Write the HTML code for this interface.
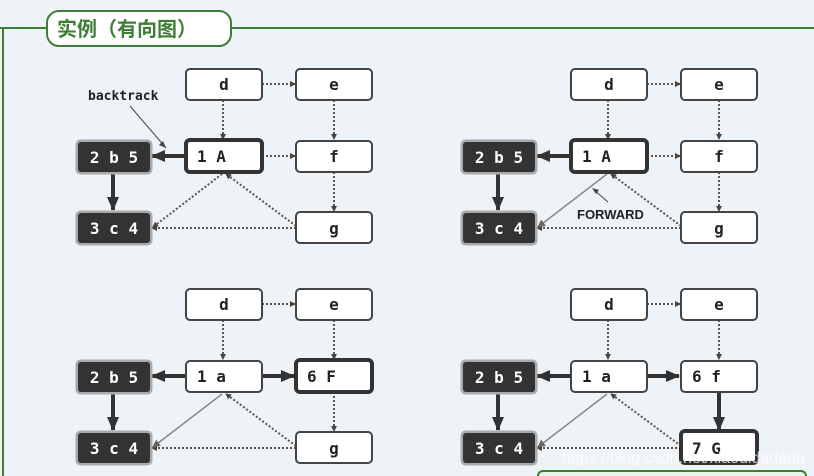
<!DOCTYPE html>
<html><head><meta charset="utf-8"><style>
html,body{margin:0;padding:0;background:#eef3f8;width:814px;height:476px;overflow:hidden}
svg{display:block}
text{font-family:"DejaVu Sans Mono","Liberation Mono",monospace;font-weight:bold}
</style></head><body>
<svg width="814" height="476" viewBox="0 0 814 476" xmlns="http://www.w3.org/2000/svg">
<defs>
<marker id="sa" markerWidth="6" markerHeight="6" refX="5" refY="3" orient="auto" markerUnits="userSpaceOnUse"><path d="M0,0 L6,3 L0,6z" fill="#444"/></marker>
<marker id="ba" markerWidth="14" markerHeight="12" refX="13" refY="6" orient="auto" markerUnits="userSpaceOnUse"><path d="M0,0 L14,6 L0,12z" fill="#333"/></marker>
<marker id="ta" markerWidth="8" markerHeight="8" refX="7" refY="4" orient="auto" markerUnits="userSpaceOnUse"><path d="M0,0 L8,4 L0,8z" fill="#666"/></marker>
<g id="base">
 <line x1="262" y1="84" x2="295" y2="84" stroke="#555" stroke-width="2" stroke-dasharray="2,2" marker-end="url(#sa)"/>
 <line x1="223" y1="100" x2="223" y2="139" stroke="#555" stroke-width="2" stroke-dasharray="2,2" marker-end="url(#sa)"/>
 <line x1="334" y1="100" x2="334" y2="139" stroke="#555" stroke-width="2" stroke-dasharray="2,2" marker-end="url(#sa)"/>
 <line x1="296" y1="228" x2="152" y2="228" stroke="#555" stroke-width="2" stroke-dasharray="2,2" marker-end="url(#sa)"/>
 <line x1="296" y1="226" x2="226" y2="174" stroke="#555" stroke-width="2" stroke-dasharray="2,2" marker-end="url(#sa)"/>
 <line x1="113" y1="172" x2="113" y2="210" stroke="#333" stroke-width="4" marker-end="url(#ba)"/>
 <line x1="186" y1="156" x2="152" y2="156" stroke="#333" stroke-width="4" marker-end="url(#ba)"/>
 <rect x="75.5" y="139.5" width="77" height="35" rx="5" fill="#aaa"/>
 <rect x="78" y="142" width="72" height="30" rx="3" fill="#333"/>
 <text x="114" y="163" fill="#fff" font-size="16" text-anchor="middle">2 b 5</text>
 <rect x="75.5" y="210.5" width="77" height="35" rx="5" fill="#aaa"/>
 <rect x="78" y="213" width="72" height="30" rx="3" fill="#333"/>
 <text x="114" y="234" fill="#fff" font-size="16" text-anchor="middle">3 c 4</text>
 <rect x="186" y="69" width="76" height="31" rx="4" fill="#fff" stroke="#444" stroke-width="2"/>
 <text x="224" y="90" font-size="16" text-anchor="middle" fill="#222">d</text>
 <rect x="296" y="69" width="76" height="31" rx="4" fill="#fff" stroke="#444" stroke-width="2"/>
 <text x="334" y="90" font-size="16" text-anchor="middle" fill="#222">e</text>
</g>
</defs>
<!-- frame -->
<line x1="0" y1="28" x2="814" y2="28" stroke="#3e7d36" stroke-width="2"/>
<line x1="3" y1="28" x2="3" y2="476" stroke="#3e7d36" stroke-width="2"/>
<rect x="47" y="11" width="184" height="35" rx="12" fill="#fff" stroke="#3e7d36" stroke-width="2"/>
<text x="57" y="36" font-size="20" fill="#3e7d36" style="font-family:'Noto Sans CJK SC',sans-serif;font-weight:bold">实例（有向图）</text>
<rect x="538" y="471" width="268" height="10" rx="5" fill="#e8f4e4" stroke="#3e7d36" stroke-width="2"/>

<!-- Q1 -->
<use href="#base"/>
<line x1="262" y1="156" x2="295" y2="156" stroke="#555" stroke-width="2" stroke-dasharray="2,2" marker-end="url(#sa)"/>
<line x1="334" y1="172" x2="334" y2="211" stroke="#555" stroke-width="2" stroke-dasharray="2,2" marker-end="url(#sa)"/>
<line x1="222" y1="174" x2="153" y2="227" stroke="#555" stroke-width="2" stroke-dasharray="2,2" marker-end="url(#sa)"/>
<rect x="186" y="140" width="76" height="32" rx="4" fill="#fff" stroke="#333" stroke-width="4"/>
<text x="197" y="162" font-size="16" fill="#222">1 A</text>
<rect x="296" y="141" width="76" height="31" rx="4" fill="#fff" stroke="#444" stroke-width="2"/>
<text x="334" y="162" font-size="16" text-anchor="middle" fill="#222">f</text>
<rect x="296" y="212" width="76" height="31" rx="4" fill="#fff" stroke="#444" stroke-width="2"/>
<text x="334" y="234" font-size="16" text-anchor="middle" fill="#222">g</text>
<text x="88" y="100" font-size="13" fill="#222">backtrack</text>
<line x1="130" y1="106" x2="166" y2="148" stroke="#444" stroke-width="1"/>
<path d="M166,148 L159,145 L163,141z" fill="#444"/>

<!-- Q2 -->
<g transform="translate(385,0)">
<use href="#base"/>
<line x1="262" y1="156" x2="295" y2="156" stroke="#555" stroke-width="2" stroke-dasharray="2,2" marker-end="url(#sa)"/>
<line x1="334" y1="172" x2="334" y2="211" stroke="#555" stroke-width="2" stroke-dasharray="2,2" marker-end="url(#sa)"/>
<line x1="222" y1="174" x2="153" y2="227" stroke="#888" stroke-width="1.5" marker-end="url(#ta)"/>
<rect x="186" y="140" width="76" height="32" rx="4" fill="#fff" stroke="#333" stroke-width="4"/>
<text x="197" y="162" font-size="16" fill="#222">1 A</text>
<rect x="296" y="141" width="76" height="31" rx="4" fill="#fff" stroke="#444" stroke-width="2"/>
<text x="334" y="162" font-size="16" text-anchor="middle" fill="#222">f</text>
<rect x="296" y="212" width="76" height="31" rx="4" fill="#fff" stroke="#444" stroke-width="2"/>
<text x="334" y="234" font-size="16" text-anchor="middle" fill="#222">g</text>
<text x="192" y="219" font-size="13" fill="#222" style="font-family:'Liberation Sans',sans-serif">FORWARD</text>
<line x1="223" y1="202" x2="209" y2="190" stroke="#444" stroke-width="1"/>
<path d="M207,188 L214,190 L211,194z" fill="#444"/>
</g>

<!-- Q3 -->
<g transform="translate(0,220)">
<use href="#base"/>
<line x1="262" y1="156" x2="294" y2="156" stroke="#333" stroke-width="4" marker-end="url(#ba)"/>
<line x1="334" y1="172" x2="334" y2="211" stroke="#555" stroke-width="2" stroke-dasharray="2,2" marker-end="url(#sa)"/>
<line x1="222" y1="174" x2="153" y2="227" stroke="#888" stroke-width="1.5" marker-end="url(#ta)"/>
<rect x="186" y="141" width="76" height="31" rx="4" fill="#fff" stroke="#444" stroke-width="2"/>
<text x="197" y="162" font-size="16" fill="#222">1 a</text>
<rect x="296" y="140" width="76" height="32" rx="4" fill="#fff" stroke="#333" stroke-width="4"/>
<text x="307" y="162" font-size="16" fill="#222">6 F</text>
<rect x="296" y="212" width="76" height="31" rx="4" fill="#fff" stroke="#444" stroke-width="2"/>
<text x="334" y="234" font-size="16" text-anchor="middle" fill="#222">g</text>
</g>

<!-- Q4 -->
<g transform="translate(385,220)">
<use href="#base"/>
<line x1="262" y1="156" x2="294" y2="156" stroke="#333" stroke-width="4" marker-end="url(#ba)"/>
<line x1="334" y1="172" x2="334" y2="210" stroke="#333" stroke-width="4" marker-end="url(#ba)"/>
<line x1="222" y1="174" x2="153" y2="227" stroke="#888" stroke-width="1.5" marker-end="url(#ta)"/>
<rect x="186" y="141" width="76" height="31" rx="4" fill="#fff" stroke="#444" stroke-width="2"/>
<text x="197" y="162" font-size="16" fill="#222">1 a</text>
<rect x="296" y="141" width="76" height="31" rx="4" fill="#fff" stroke="#444" stroke-width="2"/>
<text x="307" y="162" font-size="16" fill="#222">6 f</text>
<rect x="296" y="211" width="76" height="32" rx="4" fill="#fff" stroke="#333" stroke-width="4"/>
<text x="307" y="234" font-size="16" fill="#222">7 G</text>
</g>
<text x="562" y="463" font-size="16" fill="#fff" fill-opacity="0.75" style="font-family:'Liberation Sans',sans-serif;font-weight:normal">https://blog.csdn.net/xiaodidadada</text>
</svg>
</body></html>
